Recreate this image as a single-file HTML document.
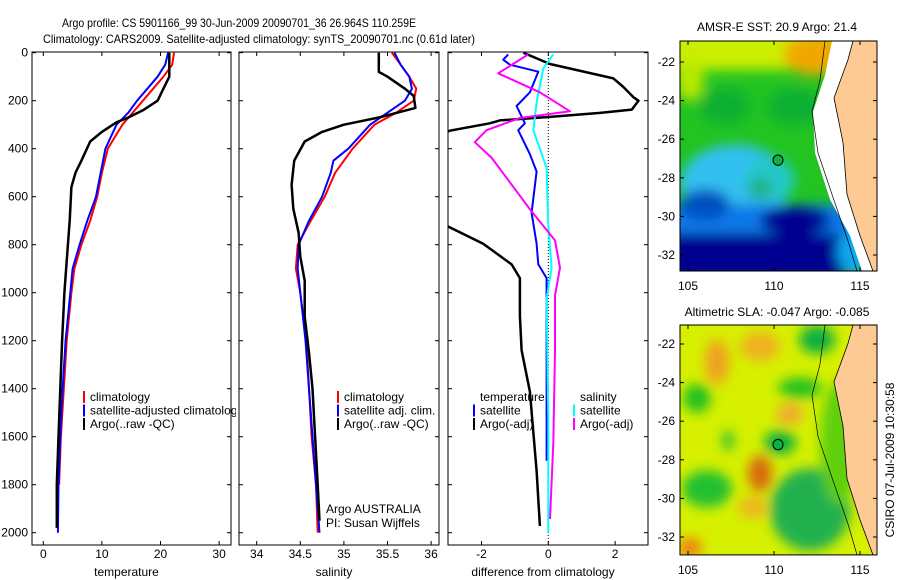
<!DOCTYPE html>
<html><head><meta charset="utf-8"><style>
body{margin:0;background:#fff;width:900px;height:580px;overflow:hidden}
svg{display:block}
text{font-family:"Liberation Sans",sans-serif;font-size:12px;fill:#000}
</style></head><body>
<svg id="fig" width="900" height="580" viewBox="0 0 900 580">
<defs>
<clipPath id="cp1"><rect x="32" y="52" width="199" height="493"/></clipPath>
<clipPath id="cp1l"><rect x="32" y="52" width="204" height="493"/></clipPath>
<clipPath id="cp2"><rect x="239" y="52" width="200" height="493"/></clipPath>
<clipPath id="cp3"><rect x="448" y="52" width="200" height="493"/></clipPath>
<clipPath id="cm1"><rect x="680" y="42" width="197" height="222"/></clipPath>
<clipPath id="cm2"><rect x="680" y="316" width="197" height="223"/></clipPath>
<filter id="bl" x="-50%" y="-50%" width="200%" height="200%"><feGaussianBlur stdDeviation="6"/></filter>
</defs>
<text x="62" y="27" font-size="13" textLength="354" lengthAdjust="spacingAndGlyphs">Argo profile: CS 5901166_99 30-Jun-2009 20090701_36 26.964S 110.259E</text>
<text x="43" y="43" font-size="13" textLength="432" lengthAdjust="spacingAndGlyphs">Climatology: CARS2009. Satellite-adjusted climatology: synTS_20090701.nc (0.61d later)</text>

<!-- Map 1 -->
<g transform="matrix(1,0,0,1.036,0,-2.51)">
<g clip-path="url(#cm1)">
<rect x="680" y="42" width="197" height="222" fill="#22c422"/>
<g filter="url(#bl)">
<rect x="670" y="30" width="220" height="40" fill="#ccee00"/>
<ellipse cx="815" cy="55" rx="32" ry="20" fill="#f0a800"/>
<ellipse cx="690" cy="80" rx="14" ry="20" fill="#b8e800"/>
<ellipse cx="725" cy="105" rx="25" ry="18" fill="#10b030"/>
<ellipse cx="795" cy="105" rx="28" ry="18" fill="#10b030"/>
<ellipse cx="735" cy="180" rx="55" ry="38" fill="#30c0f0"/>
<ellipse cx="770" cy="175" rx="25" ry="20" fill="#20c8c8"/>
<ellipse cx="760" cy="185" rx="12" ry="10" fill="#20b080"/>
<rect x="670" y="200" width="200" height="28" fill="#0878e8"/>
<ellipse cx="705" cy="200" rx="25" ry="15" fill="#0050c0"/>
<rect x="670" y="228" width="175" height="45" fill="#000090"/>
<ellipse cx="795" cy="215" rx="35" ry="14" fill="#000090"/>
<ellipse cx="855" cy="245" rx="18" ry="22" fill="#10a8f0"/>
</g>
<path d="M832,42 L853,42 L848,60 L834,97 L843,140 L847,190 L860,230 L873,260 L877,264 L862,264 L850,230 L830,195 L815,150 L813,110 L825,75 Z" fill="#fff"/>
<path d="M853,42 L877,42 L877,264 L873,264 L860,230 L847,190 L843,140 L834,97 L848,60 Z" fill="#fdca94" stroke="#000" stroke-width="0.8"/>
<path d="M825,42 L820,80 L812,110 L818,150 L832,190 L848,235 L857,264" fill="none" stroke="#000" stroke-width="0.7"/>
<circle cx="778" cy="157" r="5" fill="#10b040" stroke="#000" stroke-width="1"/>
</g>
<rect x="680" y="42" width="197" height="222" fill="none" stroke="#000"/>
</g>
<text x="777" y="31" text-anchor="middle" font-size="12">AMSR-E SST: 20.9 Argo: 21.4</text>

<!-- Map 2 -->
<g transform="matrix(1,0,0,1.031,0,-0.8)">
<g clip-path="url(#cm2)">
<rect x="680" y="316" width="197" height="223" fill="#d6f000"/>
<g filter="url(#bl)">
<ellipse cx="717" cy="352" rx="12" ry="22" fill="#f0a020"/>
<ellipse cx="760" cy="337" rx="20" ry="14" fill="#f0b020"/>
<ellipse cx="790" cy="402" rx="14" ry="10" fill="#f0a830"/>
<ellipse cx="760" cy="460" rx="12" ry="18" fill="#d86810"/>
<ellipse cx="753" cy="493" rx="14" ry="10" fill="#f0b020"/>
<ellipse cx="690" cy="532" rx="12" ry="10" fill="#f08010"/>
<ellipse cx="817" cy="330" rx="18" ry="14" fill="#10b040"/>
<ellipse cx="697" cy="387" rx="14" ry="14" fill="#20c020"/>
<ellipse cx="800" cy="377" rx="22" ry="10" fill="#20c020"/>
<ellipse cx="780" cy="430" rx="16" ry="12" fill="#10b040"/>
<ellipse cx="728" cy="428" rx="6" ry="10" fill="#30c030"/>
<ellipse cx="810" cy="495" rx="40" ry="40" fill="#20b050"/>
<ellipse cx="707" cy="475" rx="25" ry="18" fill="#20c030"/>
<ellipse cx="840" cy="430" rx="20" ry="60" fill="#60d010"/>
</g>
<path d="M853,316 L877,316 L877,539 L873,539 L860,505 L847,465 L843,414 L834,371 L848,334 Z" fill="#fdca94" stroke="#000" stroke-width="0.8"/>
<path d="M825,316 L820,354 L812,384 L818,424 L832,464 L848,509 L857,539" fill="none" stroke="#000" stroke-width="0.7"/>
<circle cx="778" cy="432" r="5" fill="#10b040" stroke="#000" stroke-width="1"/>
</g>
<rect x="680" y="316" width="197" height="223" fill="none" stroke="#000"/>
</g>
<text x="777" y="316" text-anchor="middle" font-size="12">Altimetric SLA: -0.047 Argo: -0.085</text>
<text transform="translate(894,460) rotate(-90)" text-anchor="middle" font-size="12">CSIRO 07-Jul-2009 10:30:58</text>
<g id="mapaxes"></g>
<g id="panels"></g>
</svg>
<script>
// depth grids and series
const tClimDepth=[0,50,100,200,300,400,500,600,700,800,900,1000,1200,1400,1600,1800];
const tClim=[22.3,22,20.5,17,13.5,11,10,9.2,8,6.5,5.3,4.8,4,3.5,3,2.7];
const tSatDepth=[0,50,100,200,250,300,400,500,600,700,800,900,1000,1200,1400,1600,1800,2000];
const tSat=[21.3,20.8,19.5,16,14.5,12.5,10.6,9.8,9,7.5,6.2,5,4.6,3.8,3.3,2.9,2.6,2.5];
const tArgoDepth=[0,50,100,150,200,240,270,290,330,370,450,500,560,700,800,1000,1200,1400,1600,1800,1980];
const tArgo=[21.5,21.5,21.5,20.5,19.5,17,14.5,12.5,10,8,6.5,5.5,4.8,4.5,4.2,3.6,3.2,2.9,2.6,2.3,2.3];
const sClimDepth=[0,50,100,150,200,250,300,400,500,600,700,800,900,1000,1200,1400,1600,1800,2000];
const sClim=[35.55,35.65,35.75,35.83,35.8,35.6,35.35,35.1,34.9,34.78,34.62,34.47,34.45,34.5,34.57,34.6,34.63,34.68,34.7];
const sSatDepth=[0,50,100,150,200,250,300,400,450,500,600,700,800,900,1000,1200,1400,1600,1800,2000];
const sSat=[35.58,35.65,35.75,35.78,35.7,35.5,35.3,35.05,34.88,34.85,34.75,34.6,34.48,34.47,34.5,34.56,34.6,34.64,34.68,34.72];
const sArgoDepth=[0,80,100,150,180,230,270,300,330,370,450,550,650,750,850,950,1100,1250,1400,1600,1800,1950];
const sArgo=[35.4,35.4,35.5,35.7,35.8,35.82,35.4,35.0,34.75,34.55,34.43,34.4,34.42,34.48,34.5,34.55,34.55,34.6,34.64,34.67,34.7,34.72];
const dTArgoDepth=[0,47,107,143,186,200,237,251,268,282,294,325,400,600,724,796,882,939,1097,1240,1412,1742,1972];
const dTArgo=[-0.75,0.05,1.95,2.25,2.55,2.7,2.5,1.55,0,-1.45,-1.75,-2.95,-4,-4,-3.0,-1.95,-1.1,-0.85,-0.85,-0.8,-0.55,-0.35,-0.25];
const dTSatDepth=[7,29,50,79,165,222,251,294,323,423,495,667,796,882,939,1097,1348,1700];
const dTSat=[-1.2,-1.35,-1.15,-0.3,-0.55,-0.95,-0.85,-0.7,-0.9,-0.55,-0.35,-0.5,-0.35,-0.3,-0.05,-0.05,-0.05,-0.05];
const dSSatDepth=[7,65,208,323,480,724,896,1025,1527,2000];
const dSSat=[0.15,-0.15,-0.35,-0.45,-0.05,0,0.1,-0.05,0,0];
const dSArgoDepth=[7,86,165,244,272,323,373,437,652,782,896,1011,1240,1628,1943];
const dSArgo=[-0.6,-1.5,-0.25,0.65,-0.85,-1.85,-2.2,-1.7,-0.55,0.2,0.35,0.2,0.2,0.15,0.05];
const depthTicks=[0,200,400,600,800,1000,1200,1400,1600,1800,2000];
const tTicks=[0,10,20,30];
const sTicks=[34,34.5,35,35.5,36];
const dTicks=[-2,0,2];
const lonTicks=[105,110,115];
const latTicks=[-22,-24,-26,-28,-30,-32];

const NS='http://www.w3.org/2000/svg';
const root=document.getElementById('panels');
function mk(tag,attrs,parent){const e=document.createElementNS(NS,tag);for(const k in attrs)e.setAttribute(k,attrs[k]);(parent||root).appendChild(e);return e;}
const FT=52,FB=545;
const yD=d=>52.7+d*0.24;
const xT=v=>43.3+v*5.86;
const xS=v=>256.7+(v-34)*87.2;
const xDf=v=>548.3+v*33.4;
const panels=[
 {x:32,w:199,sx:xT,ticks:tTicks,label:'temperature',name:'temperature-panel',clip:'cp1'},
 {x:239,w:200,sx:xS,ticks:sTicks,label:'salinity',name:'salinity-panel',clip:'cp2'},
 {x:448,w:200,sx:xDf,ticks:dTicks,label:'difference from climatology',name:'difference-panel',clip:'cp3'}];
panels.forEach((p,i)=>{
 const g=mk('g',{});
 
 
 const r=mk('rect',{x:p.x,y:FT,width:p.w,height:FB-FT,fill:'none',stroke:'#000','stroke-width':1},g);
 
 
 depthTicks.forEach(d=>{
  mk('line',{x1:p.x,x2:p.x+4,y1:yD(d),y2:yD(d),stroke:'#000'},g);
  mk('line',{x1:p.x+p.w,x2:p.x+p.w-4,y1:yD(d),y2:yD(d),stroke:'#000'},g);
  if(i===0){const t=mk('text',{x:28,y:yD(d)+4,'text-anchor':'end'},g);t.textContent=d;
   
   }
 });
 p.ticks.forEach(v=>{
  const x=p.sx(v);
  mk('line',{x1:x,x2:x,y1:FB,y2:FB-4,stroke:'#000'},g);
  mk('line',{x1:x,x2:x,y1:FT,y2:FT+4,stroke:'#000'},g);
  const t=mk('text',{x:x,y:558,'text-anchor':'middle'},g);t.textContent=v;
  
  
 });
 const t=mk('text',{x:p.x+p.w/2-5,y:576,'text-anchor':'middle'},g);t.textContent=p.label;
 
 
});
function series(ds,vs,sx,color,w,clip,name){
 const pts=ds.map((d,k)=>sx(vs[k]).toFixed(1)+','+yD(d).toFixed(1)).join(' ');
 const pl=mk('polyline',{points:pts,fill:'none',stroke:color,'stroke-width':w,'clip-path':'url(#'+clip+')','stroke-linejoin':'round'});
 
 
}
const zl=mk('line',{x1:xDf(0),x2:xDf(0),y1:FT,y2:FB,stroke:'#000','stroke-dasharray':'1,2','stroke-width':1});


series(tClimDepth,tClim,xT,'#f00',2,'cp1','temp-climatology-line');
series(tSatDepth,tSat,xT,'#00f',2,'cp1','temp-satellite-line');
series(tArgoDepth,tArgo,xT,'#000',2.5,'cp1','temp-argo-line');
series(sClimDepth,sClim,xS,'#f00',2,'cp2','sal-climatology-line');
series(sSatDepth,sSat,xS,'#00f',2,'cp2','sal-satellite-line');
series(sArgoDepth,sArgo,xS,'#000',2.5,'cp2','sal-argo-line');
series(dTArgoDepth,dTArgo,xDf,'#000',2.5,'cp3','diff-temp-argo-line');
series(dTSatDepth,dTSat,xDf,'#00f',2,'cp3','diff-temp-satellite-line');
series(dSSatDepth,dSSat,xDf,'#0ff',2,'cp3','diff-sal-satellite-line');
series(dSArgoDepth,dSArgo,xDf,'#f0f',2,'cp3','diff-sal-argo-line');

function legend(x,y,items,name,clip){
 const g=mk('g',clip?{'clip-path':'url(#'+clip+')'}:{});
 
 
 items.forEach((it,k)=>{
  const yy=y+k*13.5;
  if(it[0])mk('line',{x1:x,x2:x,y1:yy-6,y2:yy+6,stroke:it[0],'stroke-width':2},g);
  const t=mk('text',{x:x+6,y:yy+4},g);t.textContent=it[1];
  
  
 });
}
legend(84,397,[['#f00','climatology'],['#00f','satellite-adjusted climatology'],['#000','Argo(..raw -QC)']],'temperature-legend','cp1l');
legend(338,397,[['#f00','climatology'],['#00f','satellite adj. clim.'],['#000','Argo(..raw -QC)']],'salinity-legend');
legend(474,397,[[null,'temperature'],['#00f','satellite'],['#000','Argo(-adj)']],'diff-temp-legend');
legend(574,397,[[null,'salinity'],['#0ff','satellite'],['#f0f','Argo(-adj)']],'diff-sal-legend');
const c1=mk('text',{x:326,y:513});c1.textContent='Argo AUSTRALIA';


const c2=mk('text',{x:326,y:527});c2.textContent='PI: Susan Wijffels';



// map axes
const ma=document.getElementById('mapaxes');
const xLon=v=>688+(v-105)*17.2;
[[41,271,62],[325,555,344]].forEach(m=>{
 lonTicks.forEach(v=>{const x=xLon(v);
  mk('line',{x1:x,x2:x,y1:m[1],y2:m[1]-4,stroke:'#000'},ma);
  mk('line',{x1:x,x2:x,y1:m[0],y2:m[0]+4,stroke:'#000'},ma);
  const t=mk('text',{x:x,y:m[1]+19,'text-anchor':'middle'},ma);t.textContent=v;
  
  });
 latTicks.forEach(v=>{const y=m[2]+(-22-v)*19.3;
  mk('line',{x1:680,x2:684,y1:y,y2:y,stroke:'#000'},ma);
  mk('line',{x1:877,x2:873,y1:y,y2:y,stroke:'#000'},ma);
  const t=mk('text',{x:675,y:y+4,'text-anchor':'end'},ma);t.textContent=v;
  
  });
});
</script>
</body></html>
